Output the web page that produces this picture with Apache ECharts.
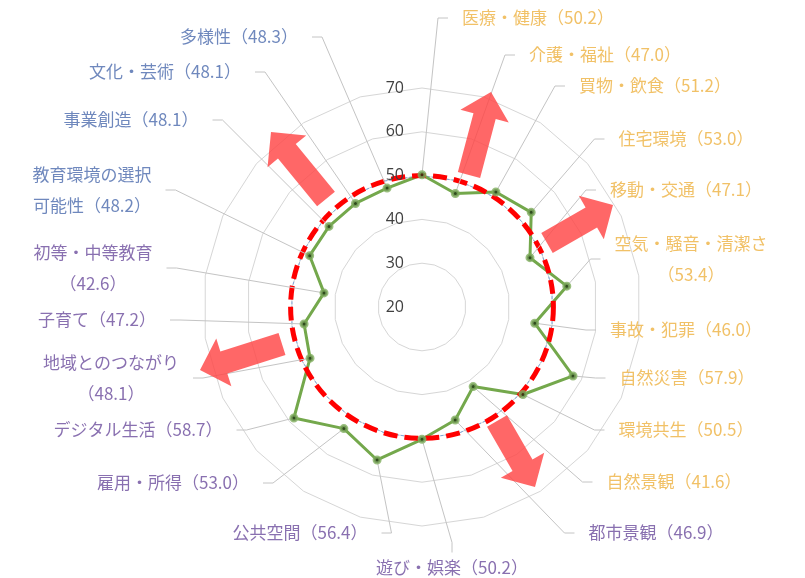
<!DOCTYPE html>
<html lang="ja">
<head>
    <meta charset="UTF-8">
    <title>レーダーチャート</title>
    <style>
        html, body { margin: 0; padding: 0; background: #fff; }
    </style>
</head>
<body>
<div id="main" style="width: 805px;height:578px;"></div>
<script src="https://cdn.jsdelivr.net/npm/echarts@6/dist/echarts.min.js"></script>
<script>
    // 指標名（上から時計回り）
    var categories = ['医療・健康', '介護・福祉', '買物・飲食', '住宅環境', '移動・交通', '空気・騒音・清潔さ',
        '事故・犯罪', '自然災害', '環境共生', '自然景観', '都市景観', '遊び・娯楽', '公共空間', '雇用・所得',
        'デジタル生活', '地域とのつながり', '子育て', '初等・中等教育', '教育環境の選択可能性', '事業創造',
        '文化・芸術', '多様性'];
    // 偏差値
    var scores = [50.2, 47.0, 51.2, 53.0, 47.1, 53.4, 46.0, 57.9, 50.5, 41.6, 46.9, 50.2, 56.4, 53.0,
        58.7, 48.1, 47.2, 42.6, 48.2, 48.1, 48.1, 48.3];
    // 全国平均
    var average = [50, 50, 50, 50, 50, 50, 50, 50, 50, 50, 50, 50, 50, 50, 50, 50, 50, 50, 50, 50, 50, 50];
    // ラベル色のグループ
    var groups = ['a', 'a', 'a', 'a', 'a', 'a', 'a', 'a', 'a', 'a', 'b', 'b', 'b', 'b', 'b', 'b', 'b', 'b',
        'c', 'c', 'c', 'c'];
    // 目盛
    var tickValues = [20, 30, 40, 50, 60, 70];

    var groupColor = {a: '#EDB241', b: '#6C4C9C', c: '#4B6AAD'};

    // ラベル位置（中心x, 中心y, 改行位置: -1なし / 0は括弧の前 / nは文字数）
    var labelSpots = [
        [538, 18, -1], [605, 55, -1], [655, 86, -1], [686, 139, -1], [686, 190, -1], [691, 259, 0],
        [686, 330, -1], [687, 378, -1], [686, 430, -1], [674, 482, -1], [656, 533, -1], [452, 568, -1],
        [300, 533, -1], [173, 483, -1], [138, 430, -1], [111, 378, 0], [97, 320, -1], [93, 268, 0],
        [92, 190, 7], [131, 120, -1], [165, 72, -1], [239, 37, -1]
    ];

    // 矢印（根元x, 根元y, 先端x, 先端y）
    var arrows = [
        [469, 175, 491, 92],
        [326, 199, 271, 132],
        [547, 243, 613, 205],
        [497, 421, 535, 487],
        [282, 344, 200, 370]
    ];

    var center = [422, 307];
    var radius = 219;

    function labelText(i) {
        var name = categories[i];
        var val = '（' + scores[i].toFixed(1) + '）';
        var br = labelSpots[i][2];
        if (br === 0) return name + '\n' + val;
        if (br > 0) return name.slice(0, br) + '\n' + name.slice(br) + val;
        return name + val;
    }

    function arrowPoints(a) {
        var bx = a[0], by = a[1], tx = a[2], ty = a[3];
        var len = Math.sqrt((tx - bx) * (tx - bx) + (ty - by) * (ty - by));
        var ux = (tx - bx) / len, uy = (ty - by) / len;
        var nx = -uy, ny = ux;
        var w = 11.5, h = 25, hl = 25;
        var mx = tx - ux * hl, my = ty - uy * hl;
        return [
            [bx + nx * w, by + ny * w],
            [mx + nx * w, my + ny * w],
            [mx + nx * h, my + ny * h],
            [tx, ty],
            [mx - nx * h, my - ny * h],
            [mx - nx * w, my - ny * w],
            [bx - nx * w, by - ny * w]
        ];
    }

    var myChart = echarts.init(document.getElementById('main'));

    var lineData = scores.map(function (v, i) { return [v, i]; });
    lineData.push([scores[0], categories.length]);

    var pointData = scores.map(function (v, i) {
        return {
            name: categories[i],
            value: [v, i],
            label: {color: groupColor[groups[i]], formatter: labelText(i)}
        };
    });

    var splitColors = tickValues.map(function (t) {
        return t === 50 ? '#FF0000' : 'rgba(0,0,0,0)';
    });

    var option = {
        backgroundColor: '#ffffff',
        animation: false,
        textStyle: {fontFamily: '"Noto Sans CJK JP", "Noto Sans", sans-serif'},
        radar: {
            center: center,
            radius: radius,
            startAngle: 90,
            splitNumber: 5,
            shape: 'polygon',
            indicator: categories.map(function (c) {
                return {name: c, min: tickValues[0], max: tickValues[tickValues.length - 1]};
            }),
            axisName: {show: false},
            axisLine: {show: false},
            axisTick: {show: false},
            axisLabel: {show: false},
            splitArea: {show: false},
            splitLine: {lineStyle: {color: '#D6D6D6', width: 1}}
        },
        polar: {
            center: center,
            radius: radius
        },
        angleAxis: {
            type: 'value',
            min: 0,
            max: categories.length,
            startAngle: 90,
            clockwise: true,
            axisLine: {show: false},
            axisTick: {show: false},
            axisLabel: {show: false},
            splitLine: {show: false}
        },
        radiusAxis: {
            type: 'value',
            min: tickValues[0],
            max: tickValues[tickValues.length - 1],
            interval: 10,
            z: 3,
            axisLine: {show: false},
            axisTick: {show: false},
            axisLabel: {
                show: true,
                color: '#404040',
                fontSize: 16,
                margin: 18,
                fontFamily: '"Open Sans", "Noto Sans", sans-serif'
            },
            splitLine: {
                show: true,
                lineStyle: {color: splitColors, width: 5, type: [14, 7]}
            }
        },
        series: [
            {
                name: '平均',
                type: 'radar',
                symbol: 'none',
                z: 1,
                lineStyle: {color: '#7EA6D8', width: 1, type: [3, 2]},
                data: [{value: average}]
            },
            {
                name: '偏差値',
                type: 'line',
                coordinateSystem: 'polar',
                symbol: 'none',
                z: 2,
                lineStyle: {color: '#74A84C', width: 3},
                data: lineData
            },
            {
                name: '指標',
                type: 'scatter',
                coordinateSystem: 'polar',
                z: 4,
                symbol: 'circle',
                symbolSize: 6,
                itemStyle: {color: '#1E3512', borderColor: '#7FAE5E', borderWidth: 3},
                label: {
                    show: true,
                    fontSize: 17,
                    lineHeight: 31,
                    padding: [0, 14],
                    fontFamily: '"Noto Sans CJK JP", sans-serif'
                },
                labelLine: {
                    show: true,
                    length2: 10,
                    lineStyle: {color: '#C4C4C4', width: 1}
                },
                labelLayout: function (p) {
                    var s = labelSpots[p.dataIndex];
                    return {x: s[0], y: s[1], align: 'center', verticalAlign: 'middle'};
                },
                data: pointData
            }
        ],
        graphic: {
            elements: arrows.map(function (a) {
                return {
                    type: 'polygon',
                    z: 100,
                    shape: {points: arrowPoints(a)},
                    style: {fill: 'rgba(255, 70, 70, 0.82)'}
                };
            })
        }
    };

    myChart.setOption(option);
</script>
</body>
</html>
